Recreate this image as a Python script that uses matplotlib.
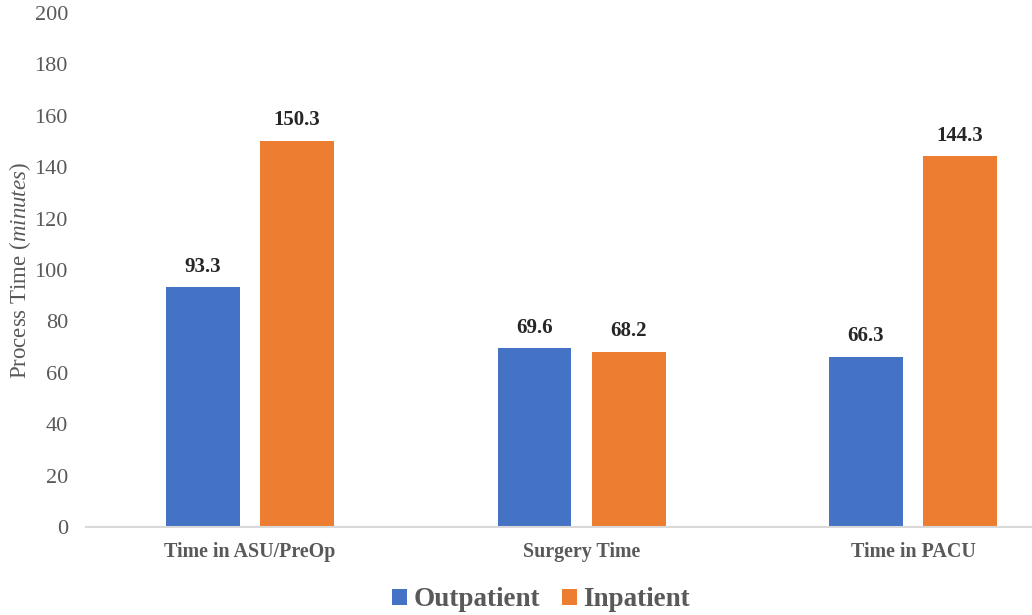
import numpy as np
import matplotlib
matplotlib.use('Agg')
import matplotlib.pyplot as plt

# Data
categories = ['Time in ASU/PreOp', 'Surgery Time', 'Time in PACU']
outpatient = [93.3, 69.6, 66.3]
inpatient = [150.3, 68.2, 144.3]
series_names = ['Outpatient', 'Inpatient']

plt.rcParams['font.family'] = ['Liberation Serif', 'DejaVu Serif']
plt.rcParams['mathtext.fontset'] = 'custom'
plt.rcParams['mathtext.rm'] = 'Liberation Serif'
plt.rcParams['mathtext.it'] = 'Liberation Serif:italic'

fig = plt.figure(figsize=(10.32, 6.15), dpi=100)
ax = fig.add_axes([86 / 1032, 88 / 615, 946 / 1032, 514 / 615])

x = np.arange(len(categories))
offset = 0.142
width = 0.223
b1 = ax.bar(x - offset, outpatient, width, color='#4472C4', label=series_names[0])
b2 = ax.bar(x + offset, inpatient, width, color='#ED7D31', label=series_names[1])

# value labels above bars
for bars in (b1, b2):
    for rect in bars:
        h = rect.get_height()
        ax.text(rect.get_x() + rect.get_width() / 2, h + 4, f'{h:.1f}',
                ha='center', va='bottom', fontsize=15, fontweight='bold', color='#262626')

ax.set_xlim(-0.495, 2.359)
ax.set_ylim(0, 200)
ax.set_yticks(range(0, 201, 20))
ax.set_xticks(x)
ax.set_xticklabels(categories, fontsize=14.4, fontweight='bold', color='#595959')
ax.tick_params(axis='y', labelsize=16, labelcolor='#595959', length=0, pad=13)
ax.tick_params(axis='x', length=0, pad=11)

for s in ['top', 'right', 'left']:
    ax.spines[s].set_visible(False)
ax.spines['bottom'].set_color('#D9D9D9')
ax.spines['bottom'].set_linewidth(1.5)

ax.set_ylabel('Process Time ($\\mathit{minutes}$)', fontsize=16.5, color='#595959', labelpad=1)

leg = fig.legend(handles=[b1, b2], loc='center', bbox_to_anchor=(541 / 1032, 1 - 600 / 615),
                 ncol=2, frameon=False, handlelength=0.55, handleheight=0.55,
                 handletextpad=0.25, columnspacing=0.8,
                 prop={'family': 'Liberation Serif', 'weight': 'bold', 'size': 19.5})
for t in leg.get_texts():
    t.set_color('#595959')

fig.savefig('out.png', dpi=100)
